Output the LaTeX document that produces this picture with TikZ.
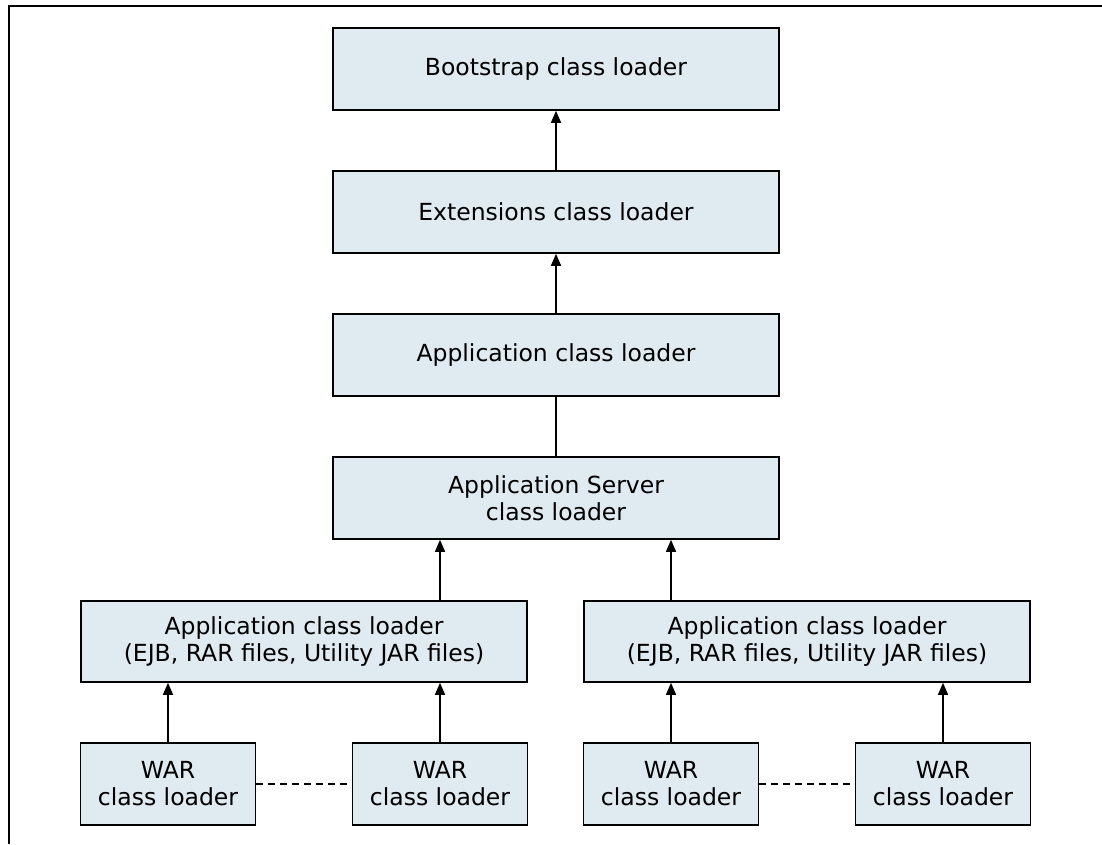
\documentclass[tikz,border=0pt]{standalone}
\usepackage{fontspec}
\setmainfont{DejaVu Sans}
\usetikzlibrary{arrows.meta}
\definecolor{boxfill}{RGB}{224,234,241}
\tikzset{
  loader/.style={draw=black, line width=1.6pt, fill=boxfill, minimum height=82pt,
    align=center, inner sep=0pt, font=\fontsize{23.5}{27}\selectfont},
  wide/.style={loader, minimum width=446pt},
  war/.style={loader, minimum width=175pt},
  link/.style={line width=1.5pt, -{Triangle[length=12pt,width=10pt]}},
  plain/.style={line width=1.5pt},
  peer/.style={line width=1.4pt, dash pattern=on 7pt off 5pt},
  frame/.style={line width=1.4pt}
}
\begin{document}
\begin{tikzpicture}[x=1pt,y=-1pt]
\useasboundingbox (0,0) rectangle (1102,844);
\draw[frame] (9,844) -- (9,6) -- (1102,6);

\node[wide] (boot) at (556,69) {Bootstrap class loader};
\node[wide] (ext)  at (556,212) {Extensions class loader};
\node[wide] (app)  at (556,355) {Application class loader};
\node[wide] (as)   at (556,498) {Application Server\\class loader};
\node[wide, minimum height=81pt] (ejbL) at (304,641.5) {Application class loader\\(EJB, RAR files, Utility JAR files)};
\node[wide, minimum height=81pt] (ejbR) at (807,641.5) {Application class loader\\(EJB, RAR files, Utility JAR files)};
\node[war] (war1) at (168,784) {WAR\\class loader};
\node[war] (war2) at (440,784) {WAR\\class loader};
\node[war] (war3) at (671,784) {WAR\\class loader};
\node[war] (war4) at (943,784) {WAR\\class loader};

\draw[link] (ext) -- (boot);
\draw[link] (app) -- (ext);
\draw[plain] (as) -- (app);
\draw[link] (ejbL.north -| war2.north) -- (as.south -| war2.north);
\draw[link] (ejbR.north -| war3.north) -- (as.south -| war3.north);
\draw[link] (war1) -- (ejbL.south -| war1.north);
\draw[link] (war2) -- (ejbL.south -| war2.north);
\draw[link] (war3) -- (ejbR.south -| war3.north);
\draw[link] (war4) -- (ejbR.south -| war4.north);
\draw[peer] (war1) -- (war2);
\draw[peer] (war3) -- (war4);
\end{tikzpicture}
\end{document}
